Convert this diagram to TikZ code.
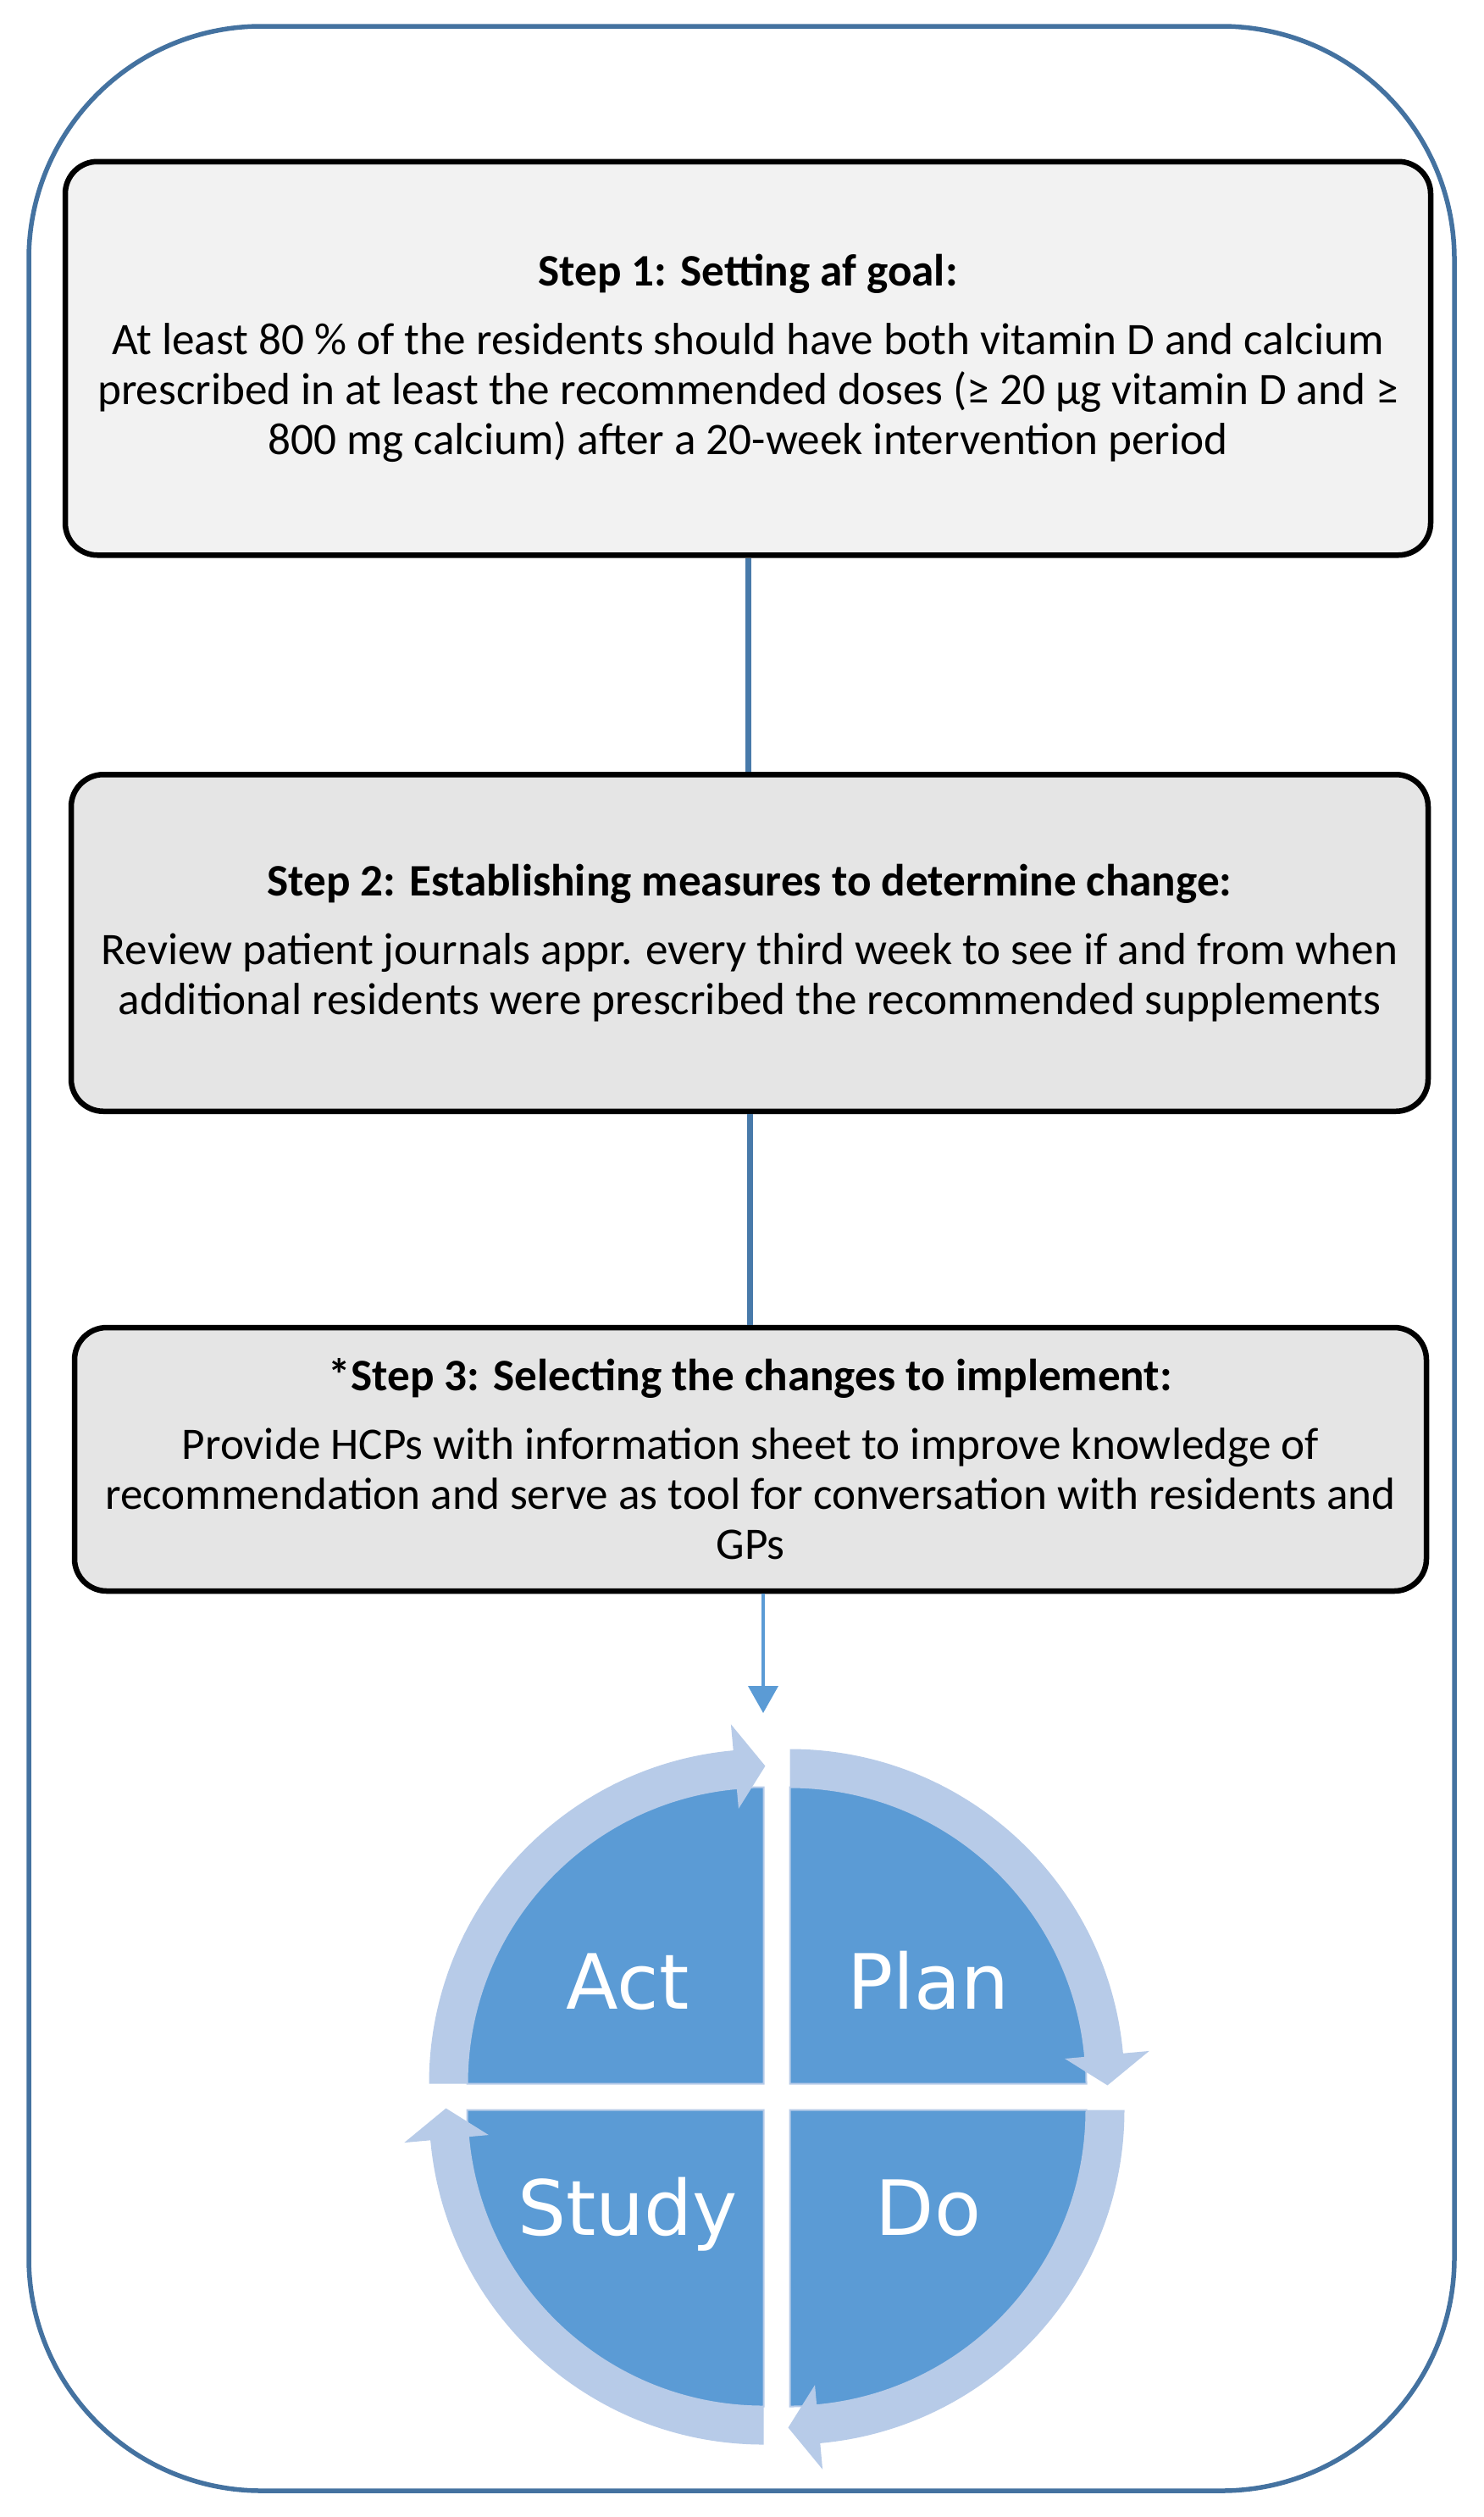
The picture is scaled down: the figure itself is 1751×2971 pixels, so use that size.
\documentclass[tikz,border=0pt]{standalone}
\usepackage{fontspec}
\setmainfont{Carlito}
\newfontfamily\pdcafont{DejaVu Sans}
\usetikzlibrary{arrows.meta,calc}
\definecolor{outerblue}{RGB}{68,114,160}
\definecolor{linkblue}{RGB}{72,122,170}
\definecolor{pdcadark}{RGB}{91,155,213}
\definecolor{pdcalight}{RGB}{183,203,232}
\definecolor{fillone}{RGB}{242,242,242}
\definecolor{filltwo}{RGB}{229,229,229}
\begin{document}
\begin{tikzpicture}[x=0.5pt,y=-0.5pt,
  stepbox/.style={draw=black, line width=3.25pt, rounded corners=19pt, align=center,
    inner sep=0pt, font=\fontsize{26.6pt}{29.5pt}\selectfont},
  link/.style={draw=linkblue, line width=3.5pt},
  pdcalabel/.style={text=white, font=\pdcafont\fontsize{45pt}{50pt}\selectfont,
    anchor=base, inner sep=0pt}]
\useasboundingbox (0,0) rectangle (1751,2971);
% outer frame
\draw[outerblue, line width=2.75pt, rounded corners=137.5pt] (34,31) rectangle (1717,2940);
% step boxes
\node[stepbox, fill=fillone, minimum width=806pt, minimum height=232.25pt] (box1) at (883,423)
  {\textbf{Step 1: Setting af goal:}\\[11pt]
   At least 80 \% of the residents should have both vitamin D and calcium\\
   prescribed in at least the recommended doses (≥ 20 µg vitamin D and ≥\\
   800 mg calcium) after a 20-week intervention period};
\node[stepbox, fill=filltwo, minimum width=801pt, minimum height=198.75pt] (box2) at (885,1113)
  {\textbf{Step 2: Establishing measures to determine change:}\\[11pt]
   Review patient journals appr. every third week to see if and from when\\
   additional residents were prescribed the recommended supplements};
\node[stepbox, fill=filltwo, minimum width=798pt, minimum height=155.5pt] (box3) at (886,1722.5)
  {\textbf{*Step 3: Selecting the changes to implement:}\\[11pt]
   Provide HCPs with information sheet to improve knowledge of\\
   recommendation and serve as tool for conversation with residents and\\
   GPs};
% connectors
\draw[link] (box1.south) -- (box1.south |- box2.north);
\draw[link] (box2.south) -- (box2.south |- box3.north);
\coordinate (atip) at (901,2022);
\draw[pdcadark, line width=2pt, -{Triangle[length=16pt,width=17.5pt]}] (box3.south -| atip) -- (atip);
% PDCA cycle
\begin{scope}[shift={(917,2475)}, yscale=-1]
  \foreach \cx/\cy/\a in {15.5/15.5/90, -15.5/15.5/180, -15.5/-15.5/270, 15.5/-15.5/0} {
    \begin{scope}[shift={(\cx,\cy)}]
      \filldraw[fill=pdcadark, draw=pdcalight, line width=1pt]
        (0,0) -- (\a-90:350) arc[start angle=\a-90, end angle=\a, radius=350] -- cycle;
      \fill[pdcalight] (\a:395) arc[start angle=\a, end angle=\a-84.8, radius=395]
        -- (\a-84.8:426) -- (\a-90.3:375) -- (\a-84.8:326) -- (\a-84.8:350)
        arc[start angle=\a-84.8, end angle=\a, radius=350] -- cycle;
    \end{scope}
  }
\end{scope}
\node[pdcalabel] (act) at (741,2371) {Act};
\node[pdcalabel] (plan) at (1096,2371) {Plan};
\node[pdcalabel] (study) at (741,2638) {Study};
\node[pdcalabel] (do) at (1096,2638) {Do};
\end{tikzpicture}
\end{document}
